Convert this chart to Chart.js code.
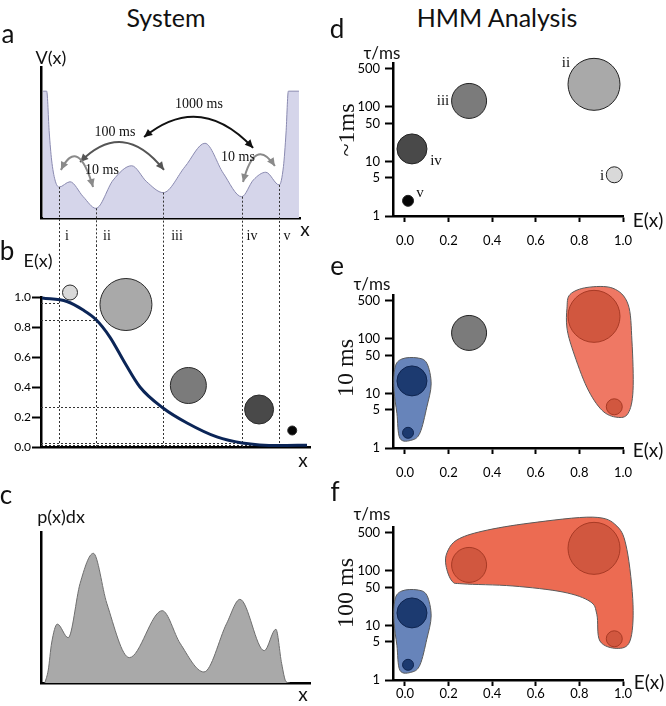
<!DOCTYPE html>
<html>
<head>
<meta charset="utf-8">
<script src="https://cdn.jsdelivr.net/npm/chart.js@4.4.0/dist/chart.umd.min.js"></script>
<style>
  body { margin: 0; background: #fff; }
  #fig { position: relative; width: 666px; height: 706px; overflow: hidden; background: #fff; }
</style>
</head>
<body>
<div id="fig"></div>
<script>
// ---- panel a : potential V(x)
const potX = [0.8, 2.2, 3.2, 4.1, 5.4, 7.0, 11.2, 16.3, 21.2, 27.9, 35.0, 40.8, 47.2, 55.6, 63.3, 70.4, 77.5, 82.0, 86.8, 92.0, 93.6, 94.6, 95.5, 99.6];
const potV = [0.84, 0.84, 0.563, 0.384, 0.252, 0.205, 0.24, 0.141, 0.064, 0.252, 0.346, 0.24, 0.168, 0.34, 0.495, 0.296, 0.141, 0.252, 0.303, 0.219, 0.34, 0.563, 0.84, 0.84];
const stateNames = ['i', 'ii', 'iii', 'iv', 'v'];
const stateX = [7.0, 21.2, 47.2, 77.5, 92.0];
const stateV = [0.205, 0.064, 0.168, 0.141, 0.219];
const arrowLabels = ['1000 ms', '100 ms', '10 ms', '10 ms'];
const arrowFrom = [[39.8, 0.536], [15.1, 0.371], [7.7, 0.318], [78.0, 0.238]];
const arrowVia = [[61.4, 0.838], [31.7, 0.66], [14.3, 0.546], [82.6, 0.543]];
const arrowTo = [[81.9, 0.464], [47.5, 0.318], [20.1, 0.205], [90.3, 0.344]];

// ---- panel b : E(x)
const sigX = [0.4, 10, 16.3, 21.2, 26.6, 32.4, 38.2, 47.1, 56.4, 67.9, 77.6, 91.9, 102.7];
const sigE = [0.993, 0.97, 0.913, 0.85, 0.733, 0.56, 0.40, 0.26, 0.16, 0.067, 0.027, 0.01, 0.012];
const stateE = [0.96, 0.85, 0.27, 0.03, 0.015];
const bubX = [11.2, 32.8, 56.9, 84.2, 97.0];
const bubE = [1.03, 0.95, 0.41, 0.25, 0.11];
const bubR = [7.5, 26, 18, 14.5, 4.5];
const eAxisTicks = [0, 0.2, 0.4, 0.6, 0.8, 1.0];

// ---- panel c : p(x)dx
const pX = [1.5, 2.8, 4.1, 6.3, 10.5, 15.1, 20.2, 25.4, 34.1, 46.8, 53.7, 62.9, 71.7, 76.8, 86.2, 90.7, 92.9, 94.6, 96.1];
const pVal = [0, 0.086, 0.265, 0.39, 0.30, 0.66, 0.859, 0.528, 0.168, 0.479, 0.263, 0.073, 0.395, 0.554, 0.214, 0.356, 0.13, 0.009, 0];

// ---- panels d, e, f : HMM states (i .. v)
const hmmE = [0.96, 0.867, 0.294, 0.032, 0.014];
const hmmTau = [5.7, 260, 129, 17, 1.9];
const hmmR = [8, 26, 17.5, 15, 5.5];
const grayShades = ['#d9d9d9', '#a9a9a9', '#7b7b7b', '#494949', '#050505'];
const groups10 = ['red', 'red', 'gray', 'blue', 'blue'];
const groups100 = ['red', 'red', 'red', 'blue', 'blue'];
const eTicks = [0, 0.2, 0.4, 0.6, 0.8, 1.0];
const tauTicks = [1, 5, 10, 50, 100, 500];

const blueBlob = [[-0.046, 30], [-0.014, 43], [0.055, 45], [0.10, 36], [0.12, 15], [0.10, 5.6], [0.069, 1.9], [0.032, 1.4], [-0.023, 1.5], [-0.037, 4.3], [-0.05, 11.3]];
const redBlob10 = [[0.743, 366], [0.757, 655], [0.835, 880], [0.954, 850], [1.023, 435], [1.041, 92], [1.046, 11.3], [1.023, 4.3], [0.972, 3.66], [0.904, 4.9], [0.835, 12.8], [0.771, 60], [0.743, 158]];
const redBlob100 = [[0.193, 218], [0.239, 372], [0.358, 540], [0.573, 755], [0.862, 970], [0.972, 665], [1.018, 246], [1.046, 24], [1.032, 5.2], [0.972, 3.8], [0.894, 5.2], [0.88, 16], [0.849, 27.5], [0.725, 41], [0.495, 53], [0.266, 58], [0.216, 65], [0.188, 125]];

const fig = document.getElementById('fig');
const SANS = 'Lato, "Open Sans", sans-serif';
const SERIF = '"Liberation Serif", "DejaVu Serif", serif';

function mkCanvas(left, top, w, h) {
  const c = document.createElement('canvas');
  c.width = w; c.height = h;
  c.style.cssText = `position:absolute;left:${left}px;top:${top}px;width:${w}px;height:${h}px`;
  fig.appendChild(c);
  return c;
}

function txt(s, cx, cy, size, family, extra) {
  const d = document.createElement('div');
  d.textContent = s;
  d.style.cssText = `position:absolute;left:${cx}px;top:${cy}px;transform:translate(-50%,-50%)${extra || ''};font-size:${size}px;font-family:${family};white-space:nowrap;line-height:1;color:#111`;
  fig.appendChild(d);
}

function plainAxis(min, max, size, horiz) {
  return {
    type: 'linear', min: min, max: max,
    ticks: { display: false },
    grid: { display: false },
    border: { color: '#000', width: 2.5 },
    afterFit: s => { if (horiz) s.height = size; else s.width = size; }
  };
}

function closedCurve(ctx, pts) {
  const n = pts.length;
  ctx.beginPath();
  ctx.moveTo(pts[0].x, pts[0].y);
  for (let i = 0; i < n; i++) {
    const p0 = pts[(i - 1 + n) % n], p1 = pts[i], p2 = pts[(i + 1) % n], p3 = pts[(i + 2) % n];
    ctx.bezierCurveTo(p1.x + (p2.x - p0.x) / 6, p1.y + (p2.y - p0.y) / 6,
      p2.x - (p3.x - p1.x) / 6, p2.y - (p3.y - p1.y) / 6, p2.x, p2.y);
  }
  ctx.closePath();
}

function head(ctx, tx, ty, fx, fy, size) {
  const ang = Math.atan2(ty - fy, tx - fx);
  ctx.beginPath();
  ctx.moveTo(tx, ty);
  ctx.lineTo(tx - size * Math.cos(ang - 0.45), ty - size * Math.sin(ang - 0.45));
  ctx.lineTo(tx - size * Math.cos(ang + 0.45), ty - size * Math.sin(ang + 0.45));
  ctx.closePath();
  ctx.fill();
}

// dashed state lines in a, plus the transition arrows
const panelAExtras = {
  id: 'panelAExtras',
  afterDatasetsDraw(chart) {
    const { ctx, scales: { x, y } } = chart;
    ctx.save();
    ctx.strokeStyle = '#333'; ctx.lineWidth = 1; ctx.setLineDash([2, 2]);
    stateX.forEach((sx, i) => {
      const px = Math.round(x.getPixelForValue(sx)) + 0.5;
      ctx.beginPath();
      ctx.moveTo(px, y.getPixelForValue(stateV[i]));
      ctx.lineTo(px, chart.height);
      ctx.stroke();
    });
    ctx.setLineDash([]);
    const cols = ['#111', '#555', '#8a8a8a', '#8a8a8a'];
    arrowFrom.forEach((f, i) => {
      const ax = x.getPixelForValue(f[0]), ay = y.getPixelForValue(f[1]);
      const cx = x.getPixelForValue(arrowVia[i][0]), cy = y.getPixelForValue(arrowVia[i][1]);
      const bx = x.getPixelForValue(arrowTo[i][0]), by = y.getPixelForValue(arrowTo[i][1]);
      ctx.strokeStyle = cols[i]; ctx.fillStyle = cols[i]; ctx.lineWidth = 2;
      ctx.beginPath();
      ctx.moveTo(ax, ay);
      ctx.quadraticCurveTo(cx, cy, bx, by);
      ctx.stroke();
      head(ctx, ax, ay, cx, cy, 9);
      head(ctx, bx, by, cx, cy, 9);
    });
    ctx.restore();
  }
};

const panelBLines = {
  id: 'panelBLines',
  beforeDatasetsDraw(chart) {
    const { ctx, scales: { x, y } } = chart;
    ctx.save();
    ctx.strokeStyle = '#333'; ctx.lineWidth = 1; ctx.setLineDash([2, 2]);
    stateX.forEach((sx, i) => {
      const px = Math.round(x.getPixelForValue(sx)) + 0.5;
      ctx.beginPath();
      ctx.moveTo(px, 0);
      ctx.lineTo(px, y.getPixelForValue(0));
      ctx.stroke();
      const py = Math.round(y.getPixelForValue(stateE[i])) + 0.5;
      ctx.beginPath();
      ctx.moveTo(x.left, py);
      ctx.lineTo(px, py);
      ctx.stroke();
    });
    ctx.restore();
  }
};

const blobs = {
  id: 'blobs',
  beforeDatasetsDraw(chart, args, opts) {
    const { ctx, scales: { x, y } } = chart;
    (opts.list || []).forEach(b => {
      const pts = b.pts.map(p => ({ x: x.getPixelForValue(p[0]), y: y.getPixelForValue(p[1]) }));
      ctx.save();
      closedCurve(ctx, pts);
      ctx.fillStyle = b.fill; ctx.fill();
      ctx.lineWidth = 1; ctx.strokeStyle = '#5a5a5a'; ctx.stroke();
      ctx.restore();
    });
  }
};

const base = {
  responsive: false, animation: false, events: [],
  plugins: { legend: { display: false }, tooltip: { enabled: false } }
};

// ---- a
new Chart(mkCanvas(0, 40, 330, 205), {
  type: 'line',
  data: { datasets: [{
    data: potX.map((v, i) => ({ x: v, y: potV[i] })),
    fill: 'origin', backgroundColor: '#d5d5ea', borderColor: '#8a8ab0', borderWidth: 1,
    pointRadius: 0, cubicInterpolationMode: 'monotone'
  }] },
  options: Object.assign({}, base, {
    layout: { padding: { top: 27, right: 30, left: 0, bottom: 0 }, autoPadding: false },
    scales: { x: plainAxis(0, 100, 27, true), y: plainAxis(0, 1, 41, false) }
  }),
  plugins: [panelAExtras]
});

// ---- b
const bY = {
  type: 'linear', min: 0, max: 1,
  afterBuildTicks: s => { s.ticks = eAxisTicks.map(v => ({ value: v })); },
  ticks: { callback: v => v.toFixed(1), font: { family: 'Lato', size: 12 }, color: '#000', padding: 1 },
  grid: { drawOnChartArea: false, tickLength: 9, tickColor: '#000', tickWidth: 2 },
  border: { color: '#000', width: 2.5 },
  afterFit: s => { s.width = 41; }
};
new Chart(mkCanvas(0, 245, 330, 225), {
  type: 'line',
  data: { datasets: [
    { data: sigX.map((v, i) => ({ x: v, y: sigE[i] })), borderColor: '#0b2557', borderWidth: 3,
      pointRadius: 0, fill: false, cubicInterpolationMode: 'monotone', clip: false },
    { type: 'bubble', data: bubX.map((v, i) => ({ x: v, y: bubE[i], r: bubR[i] })),
      backgroundColor: grayShades, borderColor: '#2a2a2a', borderWidth: 1, clip: false }
  ] },
  options: Object.assign({}, base, {
    layout: { padding: { top: 52, right: 20, left: 0, bottom: 0 }, autoPadding: false },
    scales: { x: plainAxis(0, 103.86, 23, true), y: bY }
  }),
  plugins: [panelBLines]
});

// ---- c
new Chart(mkCanvas(0, 500, 330, 206), {
  type: 'line',
  data: { datasets: [{
    data: pX.map((v, i) => ({ x: v, y: pVal[i] })),
    fill: 'origin', backgroundColor: '#a9a9a9', borderColor: '#6e6e6e', borderWidth: 1,
    pointRadius: 0, cubicInterpolationMode: 'monotone'
  }] },
  options: Object.assign({}, base, {
    layout: { padding: { top: 32, right: 20, left: 0, bottom: 0 }, autoPadding: false },
    scales: { x: plainAxis(0, 103.86, 23, true), y: plainAxis(0, 1, 41, false) }
  })
});

// ---- d, e, f
function hmmColors(groups) {
  const fill = { red: '#d1573f', blue: '#1c3a70' };
  const edge = { red: '#a83a25', blue: '#0f2550' };
  return {
    bg: groups ? groups.map((g, i) => fill[g] || grayShades[i]) : grayShades,
    bd: groups ? groups.map(g => edge[g] || '#222') : grayShades.map(() => '#222')
  };
}

function hmmChart(top, height, padTop, xHeight, labelPad, groups, blobList) {
  const col = hmmColors(groups);
  return new Chart(mkCanvas(330, top, 336, height), {
    type: 'bubble',
    data: { datasets: [{
      data: hmmE.map((v, i) => ({ x: v, y: hmmTau[i], r: hmmR[i] })),
      backgroundColor: col.bg, borderColor: col.bd, borderWidth: 1, clip: false
    }] },
    options: Object.assign({}, base, {
      layout: { padding: { top: padTop, right: 43, left: 0, bottom: 0 }, autoPadding: false },
      plugins: { legend: { display: false }, tooltip: { enabled: false }, blobs: { list: blobList } },
      scales: {
        x: {
          type: 'linear', min: -0.055, max: 1.0,
          afterBuildTicks: s => { s.ticks = eTicks.map(v => ({ value: v })); },
          ticks: { callback: v => v.toFixed(1), font: { family: 'Lato', size: 13 }, color: '#000',
            padding: labelPad, autoSkip: false, maxRotation: 0 },
          grid: { drawOnChartArea: false, tickLength: 6, tickColor: '#000', tickWidth: 2 },
          border: { color: '#000', width: 2.5 },
          afterFit: s => { s.height = xHeight; }
        },
        y: {
          type: 'logarithmic', min: 1, max: 640,
          afterBuildTicks: s => { s.ticks = tauTicks.map(v => ({ value: v })); },
          ticks: { callback: v => String(v), font: { family: 'Lato', size: 13 }, color: '#000', padding: 5 },
          grid: { drawOnChartArea: false, tickLength: 8, tickColor: '#000', tickWidth: 2 },
          border: { color: '#000', width: 2.5 },
          afterFit: s => { s.width = 63; }
        }
      }
    }),
    plugins: [blobs]
  });
}

hmmChart(40, 215, 23, 39, 11, null, []);
hmmChart(270, 215, 25, 37, 11, groups10, [
  { pts: blueBlob, fill: '#6784ba' }, { pts: redBlob10, fill: '#ef7864' }
]);
hmmChart(500, 206, 27, 26, 0, groups100, [
  { pts: blueBlob, fill: '#6784ba' }, { pts: redBlob100, fill: '#ec6b52' }
]);

// ---- text
txt('System', 166, 17, 25, SANS);
txt('HMM Analysis', 497, 17, 25, SANS);
[['a', 8, 33], ['b', 7, 250], ['c', 6, 494], ['d', 337, 28], ['e', 337, 265], ['f', 335, 491]]
  .forEach(p => txt(p[0], p[1], p[2], 26, SANS));
txt('V(x)', 51, 57, 18, SANS);
txt('E(x)', 38, 260, 18, SANS);
txt('p(x)dx', 61, 516, 18, SANS);
txt('x', 305, 228, 19, SANS);
txt('x', 303, 459, 19, SANS);
txt('x', 303, 693, 19, SANS);
[[67], [107], [177], [252], [287]].forEach((p, i) => txt(stateNames[i], p[0], 236, 14, SERIF));
[[199, 104], [115, 132], [102, 170], [238, 157]].forEach((p, i) => txt(arrowLabels[i], p[0], p[1], 14, SERIF));
txt('τ/ms', 382, 52, 17, SANS);
txt('τ/ms', 372, 283, 17, SANS);
txt('τ/ms', 372, 513, 17, SANS);
txt('E(x)', 648, 219, 19, SANS);
txt('E(x)', 648, 449, 19, SANS);
txt('E(x)', 649, 681, 19, SANS);
txt('~1ms', 346, 130, 24, SERIF, ' rotate(-90deg)');
txt('10 ms', 345, 368, 24, SERIF, ' rotate(-90deg)');
txt('100 ms', 345, 593, 24, SERIF, ' rotate(-90deg)');
[['ii', 566, 62], ['iii', 443, 100], ['iv', 436, 160], ['i', 602, 175], ['v', 420, 192]]
  .forEach(p => txt(p[0], p[1], p[2], 15, SERIF));
</script>
</body>
</html>
